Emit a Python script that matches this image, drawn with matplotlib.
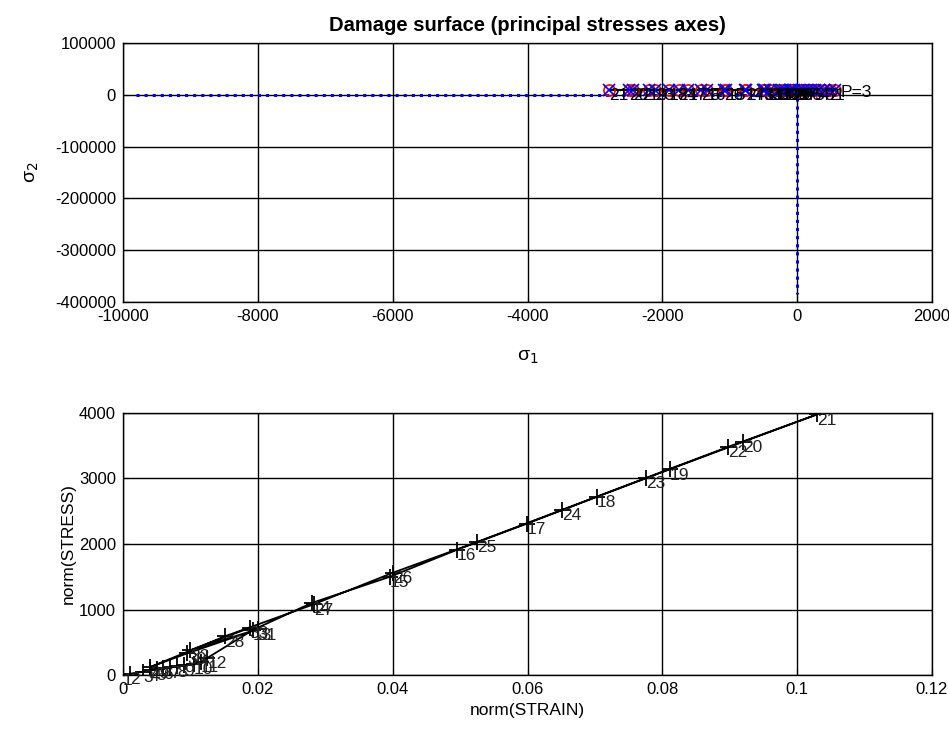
import matplotlib
matplotlib.use("Agg")
import matplotlib.pyplot as plt

plt.rcParams['font.family'] = ['Liberation Sans', 'DejaVu Sans']

# ---- data ----
point_ids = [str(i) for i in range(1, 34)]
strain_norm = [0.000, 0.001, 0.003, 0.004, 0.005, 0.006, 0.007, 0.008, 0.009, 0.0105, 0.0115, 0.0125,
               0.0193, 0.0280, 0.0396, 0.0495, 0.0599, 0.0703, 0.0811, 0.0920, 0.1030,
               0.0897, 0.0776, 0.0651, 0.0525, 0.0400, 0.0283, 0.0151,
               0.0040, 0.0095, 0.0200, 0.0100, 0.0188]
stress_norm = [0, 20, 50, 70, 85, 100, 115, 135, 150, 175, 200, 260,
               690, 1100, 1500, 1910, 2310, 2720, 3140, 3560, 3980,
               3480, 3010, 2520, 2030, 1560, 1080, 590,
               120, 330, 700, 380, 720]
sigma1 = [560, 480, 400, 330, 260, 200, 140, 80, 20, -40, -100, -180,
          -480, -770, -1050, -1340, -1620, -1900, -2200, -2490, -2790,
          -2440, -2110, -1760, -1420, -1090, -760, -410,
          -90, -230, -490, -270, -500]
sigma2 = [9000] * 33

surf_s1 = [-9800, -7000, -4000, -1000, 0, 0, 0, 0]
surf_s2 = [0, 0, 0, 0, 0, -100000, -250000, -385000]

fig = plt.figure(figsize=(9.49, 7.33), dpi=100)

# ---- top: damage surface ----
ax1 = fig.add_axes([0.1296, 0.588, 0.8525, 0.3533])
ax1.plot(surf_s1, surf_s2, color='blue', linestyle=':', linewidth=2.2, zorder=3)
ax1.plot(sigma1, sigma2, color='black', linewidth=1.5, zorder=4)
ax1.plot(sigma1, sigma2, linestyle='none', marker='o', markersize=8, markerfacecolor='none',
         markeredgecolor='red', markeredgewidth=1.2, zorder=5)
ax1.plot(sigma1, sigma2, linestyle='none', marker='x', markersize=8, color='blue',
         markeredgewidth=1.2, zorder=5)
for s1, s2, lab in zip(sigma1, sigma2, point_ids):
    ax1.text(s1, s2 - 10000, lab, fontsize=12.5, ha='left', va='center', color='black', zorder=6)
ax1.text(sigma1[0] + 80, sigma2[0] - 4000, 'P=3', fontsize=12.5, ha='left', va='center', zorder=6)
ax1.set_xlim(-10000, 2000)
ax1.set_ylim(-400000, 100000)
ax1.set_xticks([-10000, -8000, -6000, -4000, -2000, 0, 2000])
ax1.set_yticks([-400000, -300000, -200000, -100000, 0, 100000])
ax1.set_yticklabels(['-400000', '-300000', '-200000', '-100000', '0', '100000'])
ax1.set_xticklabels(['-10000', '-8000', '-6000', '-4000', '-2000', '0', '2000'])
ax1.grid(True, color='black', linewidth=1.0)
ax1.set_axisbelow(True)
ax1.tick_params(direction='in', labelsize=12, length=4, pad=5)
ax1.set_xlabel('σ$_1$', fontsize=14, labelpad=18)
ax1.set_ylabel('σ$_2$', fontsize=14, labelpad=10)
ax1.set_title('Damage surface (principal stresses axes)', fontsize=14.5, fontweight='bold', pad=9)
for sp in ax1.spines.values():
    sp.set_linewidth(1.0)

# ---- bottom: stress vs strain norms ----
ax2 = fig.add_axes([0.1296, 0.0791, 0.8525, 0.3575])
ax2.plot(strain_norm, stress_norm, color='black', linewidth=1.3, marker='+', markersize=11,
         markeredgewidth=1.3, zorder=4)
for x, y, lab in zip(strain_norm, stress_norm, point_ids):
    ax2.text(x, y - 90, lab, fontsize=12.5, ha='left', va='center', color='#222222', zorder=5)
ax2.set_xlim(0, 0.12)
ax2.set_ylim(0, 4000)
ax2.set_xticks([0, 0.02, 0.04, 0.06, 0.08, 0.1, 0.12])
ax2.set_xticklabels(['0', '0.02', '0.04', '0.06', '0.08', '0.1', '0.12'])
ax2.set_yticks([0, 1000, 2000, 3000, 4000])
ax2.grid(True, color='black', linewidth=1.0)
ax2.set_axisbelow(True)
ax2.tick_params(direction='in', labelsize=12, length=4, pad=5)
ax2.set_xlabel('norm(STRAIN)', fontsize=12.5, labelpad=4)
ax2.set_ylabel('norm(STRESS)', fontsize=12.5, labelpad=2)
for sp in ax2.spines.values():
    sp.set_linewidth(1.0)

fig.savefig('out.png', dpi=100)
